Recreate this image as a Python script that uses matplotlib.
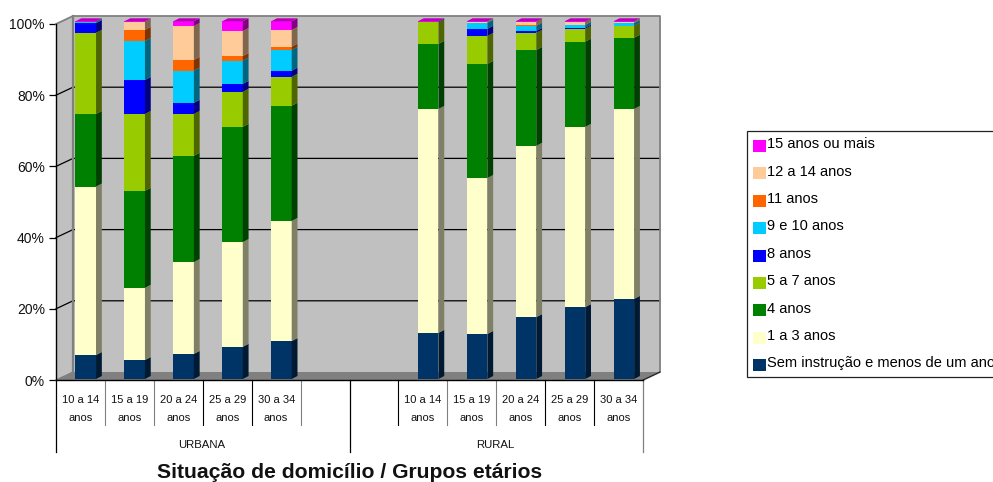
import matplotlib
matplotlib.use('Agg')
import matplotlib.pyplot as plt
from matplotlib.patches import Patch, Polygon
from matplotlib.legend_handler import HandlerPatch
import numpy as np

plt.rcParams['font.family'] = ['Liberation Sans', 'DejaVu Sans']

# constants
W_px = 993
H_px = 482

# data
age_groups = ['10 a 14\nanos', '15 a 19\nanos', '20 a 24\nanos', '25 a 29\nanos', '30 a 34\nanos']
positions = [0, 1, 2, 3, 4, 7, 8, 9, 10, 11]
tick_labels = age_groups + age_groups

sem_instrucao = [6.7, 5.3, 7.0, 9.0, 10.6, 12.9, 12.6, 17.3, 20.1, 22.4]
a1_3 = [47.1, 20.2, 25.7, 29.3, 33.6, 62.6, 43.6, 47.9, 50.4, 53.1]
a4 = [20.3, 27.1, 29.7, 32.2, 32.2, 18.2, 31.9, 26.8, 23.8, 19.9]
a5_7 = [22.7, 21.5, 11.7, 9.8, 8.1, 6.0, 7.8, 4.8, 3.6, 3.3]
a8 = [2.7, 9.5, 3.1, 2.2, 1.7, 0.2, 2.0, 0.5, 0.3, 0.1]
a9_10 = [0.4, 10.9, 9.0, 6.5, 5.8, 0.0, 1.7, 1.4, 0.8, 0.7]
a11 = [0.0, 3.1, 3.0, 1.3, 0.9, 0.0, 0.0, 0.2, 0.0, 0.0]
a12_14 = [0.0, 2.3, 9.5, 7.0, 4.7, 0.0, 0.3, 0.9, 0.8, 0.4]
a15 = [0.1, 0.1, 1.3, 2.7, 2.4, 0.1, 0.1, 0.2, 0.2, 0.1]

series = [sem_instrucao, a1_3, a4, a5_7, a8, a9_10, a11, a12_14, a15]
names = ['Sem instrução e menos de um ano', '1 a 3 anos', '4 anos', '5 a 7 anos', '8 anos',
         '9 e 10 anos', '11 anos', '12 a 14 anos', '15 anos ou mais']
colors = ['#003366', '#FFFFCC', '#008000', '#99CC00', '#0000FF',
          '#00CCFF', '#FF6600', '#FFCC99', '#FF00FF']


def shade(color, k):
    return tuple(c * k for c in matplotlib.colors.to_rgb(color))


def axes_box(left, top, right, bottom):
    return [left / W_px, 1 - bottom / H_px, (right - left) / W_px, (bottom - top) / H_px]


fig = plt.figure(figsize=(W_px / 100, H_px / 100), dpi=100)

# front plane of the chart box, carries the axis ticks
ax = fig.add_axes(axes_box(56, 24, 643, 380))
ax.set_xlim(0, 12)
ax.set_ylim(0, 100)
slot_px = 587 / 12
unit_px = 356 / 100
depth_x = 17 / slot_px
depth_y = 8 / unit_px

wall = '#C0C0C0'
border = '#808080'
ax.add_patch(Polygon([(depth_x, depth_y), (12 + depth_x, depth_y), (12 + depth_x, 100 + depth_y), (depth_x, 100 + depth_y)],
                     fc=wall, ec='none', clip_on=False, zorder=1))
ax.add_patch(Polygon([(0, 0), (depth_x, depth_y), (depth_x, 100 + depth_y), (0, 100)],
                     fc=wall, ec='none', clip_on=False, zorder=1))
ax.add_patch(Polygon([(0, 0), (12, 0), (12 + depth_x, depth_y), (depth_x, depth_y)],
                     fc=border, ec='none', clip_on=False, zorder=1))

# gridlines run over the back wall and down the side wall
for v in [20, 40, 60, 80]:
    ax.plot([0, depth_x, 12 + depth_x], [v, v + depth_y, v + depth_y], color='black', lw=0.9,
            clip_on=False, zorder=2)

ax.plot([0, depth_x, 12 + depth_x, 12 + depth_x, 12],
        [100, 100 + depth_y, 100 + depth_y, depth_y, 0], color=border, lw=1.3, clip_on=False, zorder=3)
ax.plot([depth_x, depth_x], [depth_y, 100 + depth_y], color=border, lw=1.6, clip_on=False, zorder=3)
ax.plot([0, depth_x], [0, depth_y], color=border, lw=0.9, clip_on=False, zorder=3)
ax.plot([12, 12 + depth_x], [0, depth_y], color='#202020', lw=0.8, clip_on=False, zorder=3)

for side in ['top', 'right']:
    ax.spines[side].set_visible(False)
for side in ['left', 'bottom']:
    ax.spines[side].set_linewidth(1.0)
    ax.spines[side].set_zorder(4)

ax.set_yticks([0, 20, 40, 60, 80, 100])
ax.set_yticklabels(['0%', '20%', '40%', '60%', '80%', '100%'], fontsize=10, color='#111111')
ax.tick_params(axis='y', length=5, width=0.9, pad=3)
ax.set_xticks([p + 0.5 for p in positions])
ax.set_xticklabels(tick_labels, fontsize=8, linespacing=2.0, color='#111111')
ax.tick_params(axis='x', length=0, pad=10.5)

# separators under the axis, two levels
short_y = -45 / unit_px
long_y = -72 / unit_px
sep_short = [1, 2, 3, 4, 5, 7, 8, 9, 10, 11]
sep_short_c = [border, border, 'black', 'black', border, 'black', border, border, 'black', 'black']
for s, c in zip(sep_short, sep_short_c):
    ax.plot([s, s], [0, short_y], color=c, lw=0.8, clip_on=False)
for s, c in zip([0, 6, 12], ['black', 'black', border]):
    ax.plot([s, s], [0, long_y], color=c, lw=0.9, clip_on=False)

ax.text(2.98, -64.5 / unit_px, 'URBANA', fontsize=8.2, ha='center', va='center', color='#111111')
ax.text(8.98, -64.5 / unit_px, 'RURAL', fontsize=8.2, ha='center', va='center', color='#111111')

ax.set_xlabel('Situação de domicílio / Grupos etários', fontsize=15.2, fontweight='bold', color='#111111')
ax.xaxis.set_label_coords(0.4993, -92 / 356, transform=ax.transAxes)
ax.xaxis.label.set_verticalalignment('center')

# bars stand a little inside the box
bx = fig.add_axes(axes_box(61.3, 21.3, 648.3, 379))
bx.set_xlim(0, 12)
bx.set_ylim(0, 100)
bx.axis('off')
bar_w = 0.42
side_x = 5.8 / slot_px
side_y = 3 / (357.7 / 100)

x = np.array(positions) + 0.5
bottom = np.zeros(len(x))
for vals, col in zip(series, colors):
    vals = np.array(vals)
    bx.bar(x, vals, bar_w, bottom=bottom, color=col, linewidth=0, clip_on=False, zorder=3)
    for xi, b, v in zip(x, bottom, vals):
        if v <= 0:
            continue
        x1 = xi + bar_w / 2
        bx.add_patch(Polygon([(x1, b), (x1 + side_x, b + side_y), (x1 + side_x, b + v + side_y), (x1, b + v)],
                             fc=shade(col, 0.5), ec='none', clip_on=False, zorder=3))
    bottom = bottom + vals

# lid on each stack
for xi, t in zip(x, bottom):
    x0 = xi - bar_w / 2
    x1 = xi + bar_w / 2
    bx.add_patch(Polygon([(x0, t), (x1, t), (x1 + side_x, t + side_y), (x0 + side_x, t + side_y)],
                         fc=shade(colors[-1], 0.72), ec='none', clip_on=False, zorder=4))

handles = [Patch(facecolor=c, edgecolor='none') for c in colors[::-1]]
leg = fig.legend(handles, names[::-1], loc='upper left',
                 bbox_to_anchor=(747 / W_px, 1 - 131 / H_px), bbox_transform=fig.transFigure,
                 fontsize=10.5, frameon=True, fancybox=False, framealpha=1, edgecolor='#222222',
                 labelspacing=0.92, handlelength=0.85, handleheight=0.24, handletextpad=0.12,
                 borderpad=0.42, borderaxespad=0,
                 handler_map={Patch: HandlerPatch(ypad=-0.418)})
leg.get_frame().set_linewidth(0.9)

fig.savefig('out.png', dpi=100)
